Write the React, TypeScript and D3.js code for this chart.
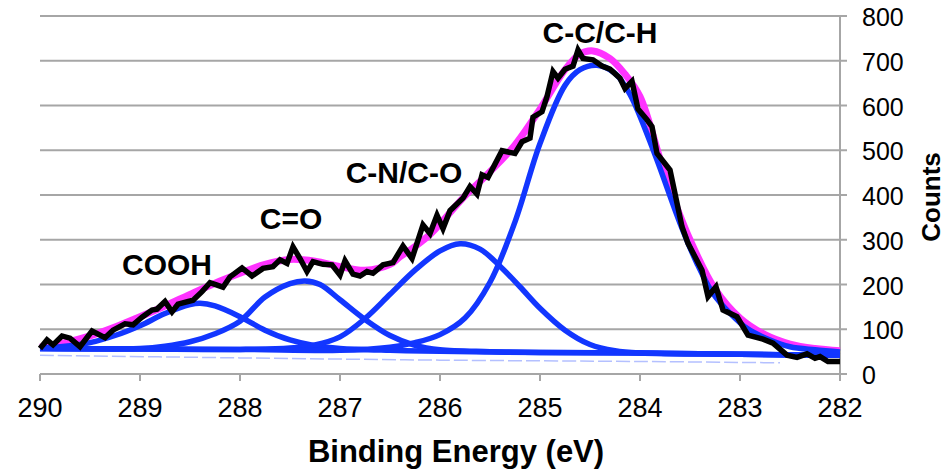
import React from 'react';
import * as d3 from 'd3';

// raw spectrum (black)
const rawEnergy = [290.0, 289.93, 289.87, 289.78, 289.7, 289.6, 289.48, 289.35, 289.27, 289.15, 289.07, 288.98, 288.88, 288.83, 288.75, 288.68, 288.62, 288.47, 288.38, 288.3, 288.17, 288.1, 287.98, 287.88, 287.77, 287.67, 287.6, 287.53, 287.47, 287.4, 287.33, 287.27, 287.17, 287.08, 287.0, 286.95, 286.87, 286.8, 286.73, 286.67, 286.57, 286.47, 286.37, 286.28, 286.17, 286.1, 286.03, 285.97, 285.9, 285.77, 285.7, 285.63, 285.58, 285.52, 285.38, 285.25, 285.18, 285.1, 285.07, 284.98, 284.93, 284.87, 284.82, 284.75, 284.67, 284.62, 284.57, 284.47, 284.38, 284.3, 284.2, 284.15, 284.08, 284.02, 283.93, 283.88, 283.83, 283.7, 283.58, 283.52, 283.38, 283.32, 283.24, 283.17, 283.03, 282.92, 282.77, 282.67, 282.53, 282.43, 282.33, 282.25, 282.2, 282.12, 282.0];
const rawCounts = [57, 76, 65, 85, 80, 61, 96, 81, 98, 112, 110, 127, 143, 145, 162, 139, 156, 165, 184, 204, 194, 217, 237, 219, 236, 240, 255, 247, 284, 258, 229, 251, 245, 244, 221, 253, 223, 219, 229, 225, 244, 249, 286, 258, 333, 314, 355, 325, 365, 393, 419, 402, 445, 439, 499, 493, 519, 527, 574, 586, 620, 676, 661, 681, 688, 724, 705, 702, 688, 681, 661, 638, 654, 592, 568, 553, 493, 456, 329, 292, 232, 173, 195, 143, 128, 87, 78, 69, 42, 37, 45, 35, 39, 28, 28];

// fit envelope (magenta)
const fitEnergy = [290, 289.75, 289.5, 289.25, 289.0, 288.75, 288.5, 288.25, 288.0, 287.75, 287.5, 287.25, 287.0, 286.75, 286.5, 286.4, 286.25, 286.1, 285.95, 285.75, 285.5, 285.25, 285.0, 284.75, 284.6, 284.47, 284.3, 284.15, 284.0, 283.75, 283.5, 283.25, 283.0, 282.75, 282.5, 282.25, 282.0];
const fitCounts = [60, 70, 85, 105, 128, 152, 178, 203, 225, 245, 256, 252, 240, 232, 245, 262, 285, 312, 348, 398, 452, 512, 592, 680, 715, 722, 705, 670, 620, 445, 300, 190, 125, 88, 67, 57, 52];

// fitted components (blue)
const coohEnergy = [290, 289.75, 289.5, 289.25, 289.0, 288.75, 288.5, 288.4, 288.25, 288.0, 287.75, 287.5, 287.25, 287.0, 286.5, 286.0, 285.0, 284.0, 283.0, 282.0];
const coohCounts = [58, 62, 70, 86, 108, 135, 155, 158, 152, 128, 98, 76, 63, 57, 53, 51, 48, 47, 44, 42];

const coEnergy = [290, 289, 288.75, 288.5, 288.25, 288.0, 287.75, 287.5, 287.35, 287.2, 287.0, 286.75, 286.5, 286.25, 286.0, 285.5, 285, 284, 283, 282];
const coCounts = [57, 57, 62, 72, 90, 118, 172, 202, 208, 200, 166, 122, 86, 64, 54, 50, 48, 47, 44, 42];

const cnEnergy = [290, 289, 288, 287.5, 287.25, 287.0, 286.75, 286.5, 286.25, 286.0, 285.8, 285.6, 285.4, 285.2, 285.0, 284.75, 284.5, 284.25, 284.0, 283.0, 282.0];
const cnCounts = [57, 56, 55, 58, 65, 83, 124, 178, 232, 275, 291, 279, 241, 195, 147, 98, 66, 52, 47, 44, 42];

const ccEnergy = [290, 288, 287, 286.5, 286.25, 286.0, 285.75, 285.5, 285.25, 285.0, 284.75, 284.6, 284.43, 284.25, 284.1, 283.85, 283.6, 283.43, 283.27, 283.1, 282.93, 282.7, 282.5, 282.25, 282.0];
const ccCounts = [57, 55, 53, 60, 70, 88, 125, 205, 340, 515, 645, 680, 690, 672, 625, 490, 337, 247, 180, 136, 102, 76, 61, 54, 49];

// background lines
const bgEnergy = [290, 289, 288, 287, 286, 285, 284, 283, 282.5];
const bgCounts = [57, 56, 55, 53, 51, 48, 47, 43, 40];
const faintEnergy = [290, 288, 286, 284, 282.6];
const faintCounts = [42, 36, 31, 28, 25];

const xTicks = [290, 289, 288, 287, 286, 285, 284, 283, 282];
const yTicks = [0, 100, 200, 300, 400, 500, 600, 700, 800];

const peakNames = ['COOH', 'C=O', 'C-N/C-O', 'C-C/C-H'];
const peakNameEnergy = [288.73, 287.49, 286.36, 284.4];
const peakNameCounts = [221, 324, 427, 740];

const font = '"Liberation Sans", Arial, sans-serif';

function App() {
    const left = 40, right = 840, top = 16, bottom = 374;
    const x = d3.scaleLinear().domain([290, 282]).range([left, right]);
    const y = d3.scaleLinear().domain([0, 800]).range([bottom, top]);

    const smooth = (es: number[], cs: number[]) =>
        d3.line<number>().x((e) => x(e)).y((_, i) => y(cs[i])).curve(d3.curveCatmullRom.alpha(0.5))(es) || '';
    const raw = d3.line<number>().x((e) => x(e)).y((_, i) => y(rawCounts[i]))(rawEnergy) || '';

    const blue = '#1236ff';
    const components = [
        [coohEnergy, coohCounts],
        [coEnergy, coCounts],
        [cnEnergy, cnCounts],
        [ccEnergy, ccCounts],
    ];

    return (
        <svg width={946} height={471} style={{ position: 'absolute', left: 0, top: 0, background: '#fff' }}>
            {/* gridlines */}
            {yTicks.filter(t => t > 0).map(t => (
                <line key={t} x1={left} x2={right} y1={y(t)} y2={y(t)} stroke="#a6a6a6" strokeWidth={2} />
            ))}
            {/* axes */}
            <line x1={left} x2={right} y1={bottom} y2={bottom} stroke="#a6a6a6" strokeWidth={2} />
            <line x1={right} x2={right} y1={top} y2={bottom + 7} stroke="#a6a6a6" strokeWidth={2} />
            {xTicks.map(t => (
                <line key={t} x1={x(t)} x2={x(t)} y1={bottom} y2={bottom + 7} stroke="#a6a6a6" strokeWidth={2} />
            ))}
            {yTicks.map(t => (
                <line key={t} x1={right} x2={right + 7} y1={y(t)} y2={y(t)} stroke="#a6a6a6" strokeWidth={2} />
            ))}

            {/* baselines */}
            <path d={smooth(faintEnergy, faintCounts)} fill="none" stroke="#b4c0ff" strokeWidth={1.5} strokeDasharray="14 4" />
            <path d={smooth(bgEnergy, bgCounts)} fill="none" stroke={blue} strokeWidth={2} />

            {/* envelope */}
            <path d={smooth(fitEnergy, fitCounts)} fill="none" stroke="#ff33ff" strokeWidth={7} />

            {/* components */}
            {components.map((c, i) => (
                <path key={i} d={smooth(c[0], c[1])} fill="none" stroke={blue} strokeWidth={5.5} />
            ))}

            {/* raw data */}
            <path d={raw} fill="none" stroke="#000" strokeWidth={5.5} strokeLinejoin="miter" />

            {/* peak labels */}
            {peakNames.map((n, i) => (
                <text key={n} x={x(peakNameEnergy[i])} y={y(peakNameCounts[i])} textAnchor="middle"
                    fontFamily={font} fontWeight="bold" fontSize={30} fill="#000">{n}</text>
            ))}

            {/* tick labels */}
            {xTicks.map(t => (
                <text key={t} x={x(t)} y={417} textAnchor="middle" fontFamily={font} fontSize={27}>{t}</text>
            ))}
            {yTicks.map(t => (
                <text key={t} x={862} y={y(t) + 10} fontFamily={font} fontSize={25}>{t}</text>
            ))}

            {/* axis titles */}
            <text x={456} y={462} textAnchor="middle" fontFamily={font} fontWeight="bold" fontSize={31}>Binding Energy (eV)</text>
            <text transform="translate(940,197) rotate(-90)" textAnchor="middle" fontFamily={font} fontWeight="bold" fontSize={26}>Counts</text>
        </svg>
    );
}

export default App;
